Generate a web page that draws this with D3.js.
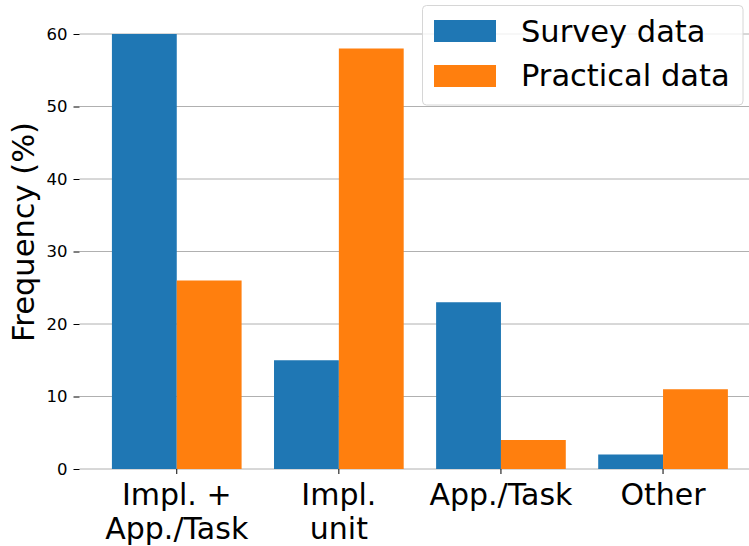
<!DOCTYPE html>
<html>
<head>
<meta charset="utf-8">
<script src="https://cdn.jsdelivr.net/npm/d3@7"></script>
<style>
  body { margin: 0; background: #fff; }
  svg { display: block; font-family: "DejaVu Sans", sans-serif; }
</style>
</head>
<body>
<div id="chart"></div>
<script>
// chart values
const categories = [["Impl. +", "App./Task"], ["Impl.", "unit"], ["App./Task"], ["Other"]];
const surveyValues = [60, 15, 23, 2];
const practicalValues = [26, 58, 4, 11];
const yTicks = [0, 10, 20, 30, 40, 50, 60];
const seriesNames = ["Survey data", "Practical data"];
const colors = ["#1f77b4", "#ff7f0e"];

const width = 749, height = 546;
const barWidth = 0.4;

const svg = d3.select("#chart").append("svg")
  .attr("width", width)
  .attr("height", height);

// index -> pixel, with matplotlib-like margins on each side
const x = d3.scaleLinear().domain([-0.6, 3.6]).range([79.5, 760.3]);
const y = d3.scaleLinear().domain([0, 60]).range([469, 34]);

// grid
svg.append("g")
  .selectAll("line")
  .data(yTicks)
  .join("line")
  .attr("x1", x(-0.6)).attr("x2", x(3.6))
  .attr("y1", d => y(d)).attr("y2", d => y(d))
  .attr("stroke", "#b0b0b0")
  .attr("stroke-width", 1);

// bars
const series = [surveyValues, practicalValues];
series.forEach((vals, s) => {
  svg.append("g")
    .selectAll("rect")
    .data(vals)
    .join("rect")
    .attr("x", (d, i) => x(i + (s === 0 ? -barWidth : 0)))
    .attr("width", x(barWidth) - x(0))
    .attr("y", d => y(d))
    .attr("height", d => y(0) - y(d))
    .attr("fill", colors[s]);
});

// y axis ticks + labels
const yAxis = svg.append("g").attr("transform", `translate(${x(-0.6)},0)`)
  .call(d3.axisLeft(y).tickValues(yTicks).tickSize(6).tickPadding(6));
yAxis.select(".domain").remove();
yAxis.selectAll("line").attr("stroke", "#000").attr("stroke-width", 1);
yAxis.selectAll("text")
  .attr("font-size", 16.5)
  .attr("font-family", "DejaVu Sans")
  .attr("fill", "#000");

// x ticks + labels
const xg = svg.append("g");
categories.forEach((lines, i) => {
  xg.append("line")
    .attr("x1", x(i)).attr("x2", x(i))
    .attr("y1", y(0)).attr("y2", y(0) + 5)
    .attr("stroke", "#000");
  const t = xg.append("text")
    .attr("text-anchor", "middle")
    .attr("font-size", 30)
    .attr("fill", "#000");
  lines.forEach((ln, j) => {
    t.append("tspan")
      .attr("x", x(i))
      .attr("y", 504.5 + j * 34.5)
      .text(ln);
  });
});

// y label
svg.append("text")
  .attr("transform", "translate(34,232) rotate(-90)")
  .attr("text-anchor", "middle")
  .attr("font-size", 30.5)
  .attr("fill", "#000")
  .text("Frequency (%)");

// legend
const legend = svg.append("g");
legend.append("rect")
  .attr("x", 422.5).attr("y", 5.5)
  .attr("width", 320.5).attr("height", 99.5)
  .attr("rx", 4)
  .attr("fill", "#fff").attr("fill-opacity", 0.8)
  .attr("stroke", "#d6d6d6");
seriesNames.forEach((name, i) => {
  legend.append("rect")
    .attr("x", 434).attr("y", 20 + i * 45)
    .attr("width", 62).attr("height", 22)
    .attr("fill", colors[i]);
  legend.append("text")
    .attr("x", 521).attr("y", 41.5 + i * 44.5)
    .attr("font-size", 30.5)
    .attr("fill", "#000")
    .text(name);
});
</script>
</body>
</html>
